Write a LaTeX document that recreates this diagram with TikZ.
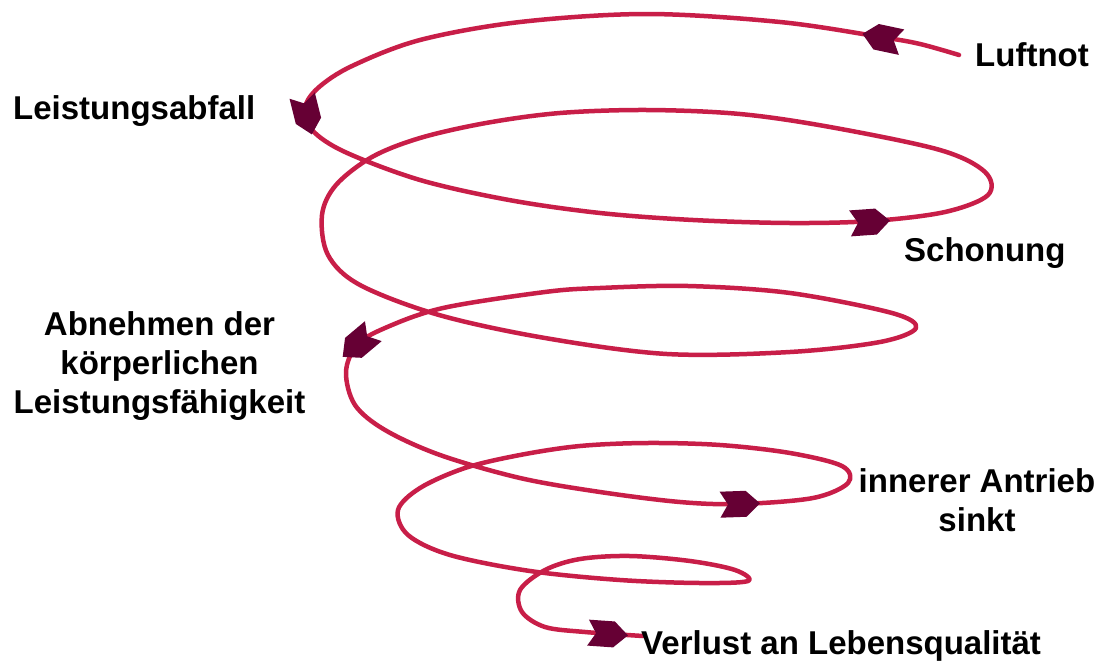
\documentclass[tikz,border=0pt]{standalone}
\usepackage{fontspec}
\setmainfont{Liberation Sans}
\definecolor{spiralc}{RGB}{200,30,72}
\definecolor{arrowc}{RGB}{102,0,52}
\tikzset{
  lbl/.style={font=\fontsize{33}{39}\selectfont\bfseries, inner sep=0pt, text=black},
  spiralline/.style={draw=spiralc, line width=4.5pt, line cap=round, line join=round},
  head/.pic={\fill[arrowc] (-20,-13) -- (6,-13) -- (20,0) -- (6,13) -- (-20,13) -- (-12,0) -- cycle;}
}
\begin{document}
\begin{tikzpicture}[x=1pt,y=-1pt]
\useasboundingbox (0,0) rectangle (1111,664);
\fill[white] (0,0) rectangle (1111,664);
% spiral
\draw[spiralline] plot[smooth, tension=0.55] coordinates {
 (959,55) (920,44) (881,37) (780,22) (647,14) (520,22) (420,40) (352,66) (318,88) (305,108) (312,130)
 (345,152) (420,180) (509,200) (600,213) (693,220) (790,223) (872,221) (945,212) (988,195)
 (985,172) (940,150) (830,127) (740,114) (647,110) (560,113) (486,123) (420,138) (372,157)
 (336,185) (322,215) (328,255) (360,285) (439,315) (545,338) (667,354) (790,352) (880,342)
 (916,328) (892,313) (790,293) (688,286) (600,288) (545,292) (443,308) (385,328) (357,345)
 (346,372) (355,405) (385,430) (440,455) (520,478) (600,492) (680,502) (740,504) (813,498)
 (848,483) (842,466) (790,453) (720,445) (647,443) (580,446) (520,455) (465,468) (420,488)
 (398,510) (408,535) (450,555) (530,571) (620,580) (700,583) (748,581) (735,570) (690,561)
 (630,556) (580,559) (545,570) (520,590) (522,612) (545,627) (585,632) (643,636)};
% arrowheads
\pic[rotate=168] at (882,38) {head};
\pic[rotate=-76] at (307,115) {head};
\pic[rotate=4] at (870,222) {head};
\pic[rotate=-140] at (358,344) {head};
\pic[rotate=2] at (740,504) {head};
\pic[rotate=-4] at (608,634) {head};
% labels
\node[lbl, anchor=base west] (luftnot) at (975,66) {Luftnot};
\node[lbl, anchor=base west] (abfall) at (13,119) {Leistungsabfall};
\node[lbl, anchor=base west] (schonung) at (904,261) {Schonung};
\node[lbl, align=center] (abnehmen) at (159.5,366) {Abnehmen der\\körperlichen\\Leistungsfähigkeit};
\node[lbl, align=center] (antrieb) at (977,500) {innerer Antrieb\\sinkt};
\node[lbl, anchor=base west] (verlust) at (641,654) {Verlust an Lebensqualität};
\end{tikzpicture}
\end{document}
